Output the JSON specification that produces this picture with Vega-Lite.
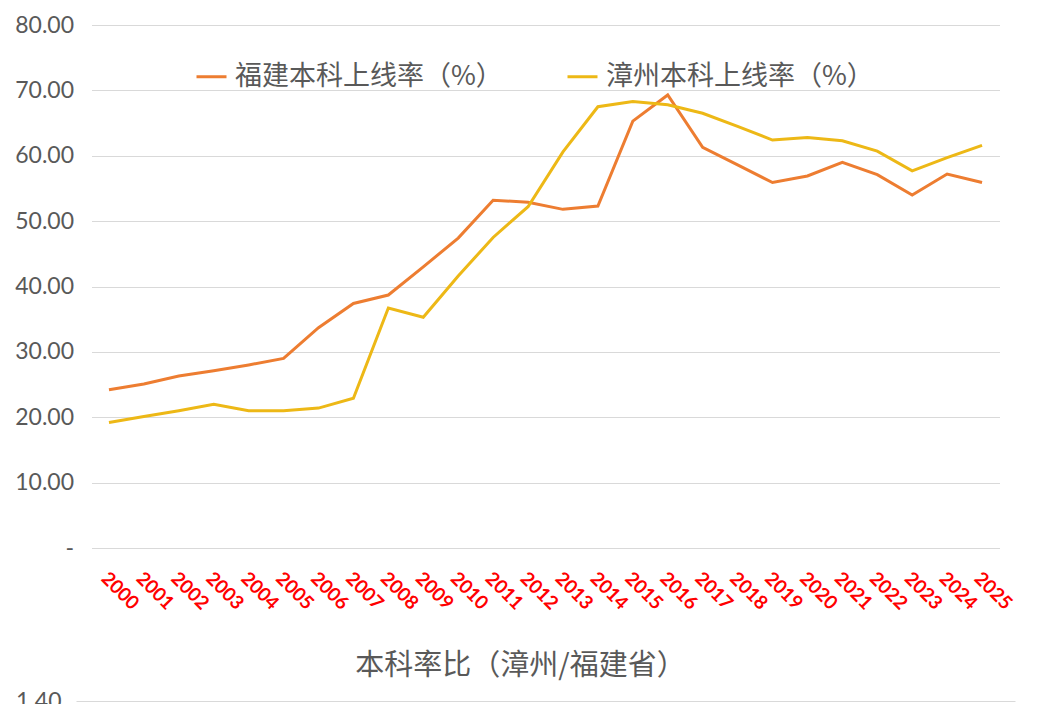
{
  "$schema": "https://vega.github.io/schema/vega-lite/v6.json",
  "padding": {"left": 14, "top": 14, "right": 20, "bottom": 0},
  "background": "white",
  "bounds": "flush",
  "center": true,
  "spacing": 153,
  "datasets": {
    "rates": [
      {"year": "2000", "series": "福建本科上线率（%）", "value": 24.2},
      {"year": "2001", "series": "福建本科上线率（%）", "value": 25.1},
      {"year": "2002", "series": "福建本科上线率（%）", "value": 26.3},
      {"year": "2003", "series": "福建本科上线率（%）", "value": 27.1},
      {"year": "2004", "series": "福建本科上线率（%）", "value": 28.0},
      {"year": "2005", "series": "福建本科上线率（%）", "value": 29.0},
      {"year": "2006", "series": "福建本科上线率（%）", "value": 33.7},
      {"year": "2007", "series": "福建本科上线率（%）", "value": 37.4},
      {"year": "2008", "series": "福建本科上线率（%）", "value": 38.7},
      {"year": "2009", "series": "福建本科上线率（%）", "value": 43.0},
      {"year": "2010", "series": "福建本科上线率（%）", "value": 47.4},
      {"year": "2011", "series": "福建本科上线率（%）", "value": 53.2},
      {"year": "2012", "series": "福建本科上线率（%）", "value": 52.9},
      {"year": "2013", "series": "福建本科上线率（%）", "value": 51.8},
      {"year": "2014", "series": "福建本科上线率（%）", "value": 52.3},
      {"year": "2015", "series": "福建本科上线率（%）", "value": 65.3},
      {"year": "2016", "series": "福建本科上线率（%）", "value": 69.3},
      {"year": "2017", "series": "福建本科上线率（%）", "value": 61.3},
      {"year": "2018", "series": "福建本科上线率（%）", "value": 58.6},
      {"year": "2019", "series": "福建本科上线率（%）", "value": 55.9},
      {"year": "2020", "series": "福建本科上线率（%）", "value": 56.9},
      {"year": "2021", "series": "福建本科上线率（%）", "value": 59.0},
      {"year": "2022", "series": "福建本科上线率（%）", "value": 57.1},
      {"year": "2023", "series": "福建本科上线率（%）", "value": 54.0},
      {"year": "2024", "series": "福建本科上线率（%）", "value": 57.2},
      {"year": "2025", "series": "福建本科上线率（%）", "value": 55.9},
      {"year": "2000", "series": "漳州本科上线率（%）", "value": 19.2},
      {"year": "2001", "series": "漳州本科上线率（%）", "value": 20.1},
      {"year": "2002", "series": "漳州本科上线率（%）", "value": 21.0},
      {"year": "2003", "series": "漳州本科上线率（%）", "value": 22.0},
      {"year": "2004", "series": "漳州本科上线率（%）", "value": 21.0},
      {"year": "2005", "series": "漳州本科上线率（%）", "value": 21.0},
      {"year": "2006", "series": "漳州本科上线率（%）", "value": 21.4},
      {"year": "2007", "series": "漳州本科上线率（%）", "value": 22.9},
      {"year": "2008", "series": "漳州本科上线率（%）", "value": 36.7},
      {"year": "2009", "series": "漳州本科上线率（%）", "value": 35.3},
      {"year": "2010", "series": "漳州本科上线率（%）", "value": 41.6},
      {"year": "2011", "series": "漳州本科上线率（%）", "value": 47.5},
      {"year": "2012", "series": "漳州本科上线率（%）", "value": 52.2},
      {"year": "2013", "series": "漳州本科上线率（%）", "value": 60.6},
      {"year": "2014", "series": "漳州本科上线率（%）", "value": 67.5},
      {"year": "2015", "series": "漳州本科上线率（%）", "value": 68.3},
      {"year": "2016", "series": "漳州本科上线率（%）", "value": 67.8},
      {"year": "2017", "series": "漳州本科上线率（%）", "value": 66.5},
      {"year": "2018", "series": "漳州本科上线率（%）", "value": 64.5},
      {"year": "2019", "series": "漳州本科上线率（%）", "value": 62.4},
      {"year": "2020", "series": "漳州本科上线率（%）", "value": 62.8},
      {"year": "2021", "series": "漳州本科上线率（%）", "value": 62.3},
      {"year": "2022", "series": "漳州本科上线率（%）", "value": 60.7},
      {"year": "2023", "series": "漳州本科上线率（%）", "value": 57.7},
      {"year": "2024", "series": "漳州本科上线率（%）", "value": 59.7},
      {"year": "2025", "series": "漳州本科上线率（%）", "value": 61.6}
    ],
    "ratio": [
      {"year": "2000", "ratio": 0.79}, {"year": "2001", "ratio": 0.80},
      {"year": "2002", "ratio": 0.80}, {"year": "2003", "ratio": 0.81},
      {"year": "2004", "ratio": 0.75}, {"year": "2005", "ratio": 0.72},
      {"year": "2006", "ratio": 0.64}, {"year": "2007", "ratio": 0.61},
      {"year": "2008", "ratio": 0.95}, {"year": "2009", "ratio": 0.82},
      {"year": "2010", "ratio": 0.88}, {"year": "2011", "ratio": 0.89},
      {"year": "2012", "ratio": 0.99}, {"year": "2013", "ratio": 1.17},
      {"year": "2014", "ratio": 1.29}, {"year": "2015", "ratio": 1.05},
      {"year": "2016", "ratio": 0.98}, {"year": "2017", "ratio": 1.08},
      {"year": "2018", "ratio": 1.10}, {"year": "2019", "ratio": 1.12},
      {"year": "2020", "ratio": 1.10}, {"year": "2021", "ratio": 1.06},
      {"year": "2022", "ratio": 1.06}, {"year": "2023", "ratio": 1.07},
      {"year": "2024", "ratio": 1.04}, {"year": "2025", "ratio": 1.10}
    ]
  },
  "vconcat": [
    {
      "width": 908,
      "height": 523,
      "data": {"name": "rates"},
      "mark": {"type": "line", "strokeWidth": 3},
      "encoding": {
        "x": {
          "field": "year",
          "type": "ordinal",
          "scale": {"type": "point", "padding": 0.5},
          "axis": {
            "title": null,
            "grid": false,
            "ticks": false,
            "domain": false,
            "labelAngle": 45,
            "labelAlign": "left",
            "labelBaseline": "middle",
            "labelFont": "Lato",
            "labelFontWeight": "bold",
            "labelFontSize": 19,
            "labelColor": "#FF0000",
            "labelPadding": 27,
            "labelOffset": -5
          }
        },
        "y": {
          "field": "value",
          "type": "quantitative",
          "scale": {"domain": [0, 80], "nice": false},
          "axis": {
            "title": null,
            "values": [0, 10, 20, 30, 40, 50, 60, 70, 80],
            "labelExpr": "datum.value == 0 ? '-' : format(datum.value, '.2f')",
            "domain": false,
            "ticks": false,
            "gridColor": "#D9D9D9",
            "labelFont": "Lato",
            "labelFontSize": 23,
            "labelColor": "#595959",
            "labelPadding": 18
          }
        },
        "color": {
          "field": "series",
          "type": "nominal",
          "scale": {
            "domain": ["福建本科上线率（%）", "漳州本科上线率（%）"],
            "range": ["#ED7D31", "#EDB816"]
          },
          "legend": {
            "title": null,
            "orient": "none",
            "direction": "horizontal",
            "legendX": 119,
            "legendY": 35,
            "symbolType": "stroke",
            "symbolStrokeWidth": 3,
            "symbolSize": 900,
            "labelOffset": 7,
            "columnPadding": 58,
            "labelFont": "Noto Sans CJK SC",
            "labelFontSize": 27,
            "labelColor": "#595959",
            "labelLimit": 0
          }
        }
      }
    },
    {
      "width": 939,
      "height": 400,
      "title": {
        "text": "本科率比（漳州/福建省）",
        "font": "Noto Sans CJK SC",
        "fontSize": 29,
        "fontWeight": "normal",
        "color": "#595959",
        "anchor": "middle",
        "dx": -25,
        "offset": 9
      },
      "data": {"name": "ratio"},
      "mark": {"type": "line", "strokeWidth": 3, "color": "#4472C4"},
      "encoding": {
        "x": {
          "field": "year",
          "type": "ordinal",
          "scale": {"type": "point", "padding": 0.5},
          "axis": null
        },
        "y": {
          "field": "ratio",
          "type": "quantitative",
          "scale": {"domain": [0, 1.4], "nice": false},
          "axis": {
            "title": null,
            "values": [0, 0.2, 0.4, 0.6, 0.8, 1.0, 1.2, 1.4],
            "format": ".2f",
            "domain": false,
            "ticks": false,
            "gridColor": "#D9D9D9",
            "labelFont": "Lato",
            "labelFontSize": 23,
            "labelColor": "#595959",
            "labelPadding": 15
          }
        }
      }
    }
  ],
  "resolve": {"scale": {"x": "independent", "y": "independent"}},
  "config": {
    "view": {"stroke": null}
  }
}
